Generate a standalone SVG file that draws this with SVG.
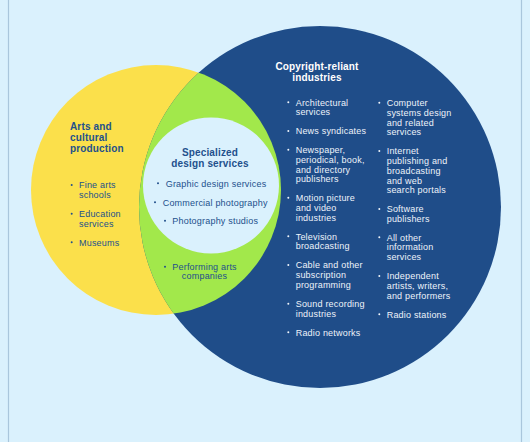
<svg xmlns="http://www.w3.org/2000/svg" width="530" height="442" viewBox="0 0 530 442">
<style>
.t{font-family:"Liberation Sans",Arial,sans-serif;font-size:9px;letter-spacing:0.2px;fill:#22508c}
.w{fill:#eef3fa}
.h{font-family:"Liberation Sans",Arial,sans-serif;font-size:10px;font-weight:bold;letter-spacing:0.15px;fill:#22508c}
.hw{fill:#ffffff}
.bd{fill:#22508c}
.bw{fill:#eef3fa}
</style>
<defs>
<clipPath id="yc"><circle cx="156" cy="190" r="125"/></clipPath>
</defs>
<rect x="0" y="0" width="530" height="442" fill="#daf1fd"/>
<line x1="8.5" y1="0" x2="8.5" y2="442" stroke="#a9c6dc" stroke-width="1.2"/>
<line x1="521.5" y1="0" x2="521.5" y2="442" stroke="#a9c6dc" stroke-width="1.2"/>

<g id="arts">
<circle cx="156" cy="190" r="125" fill="#fbe04b"/>
<text class="h" x="70" y="130.3">Arts and</text>
<text class="h" x="70" y="141.3">cultural</text>
<text class="h" x="70" y="152">production</text>
<circle class="bd" cx="71.7" cy="185" r="1"/>
<text class="t" x="79" y="188.2">Fine arts<tspan x="79" dy="10">schools</tspan></text>
<circle class="bd" cx="71.7" cy="213.7" r="1"/>
<text class="t" x="79" y="216.9">Education<tspan x="79" dy="10">services</tspan></text>
<circle class="bd" cx="71.7" cy="242.3" r="1"/>
<text class="t" x="79" y="245.5">Museums</text>
</g>

<g id="copyright">
<circle cx="320" cy="207" r="181" fill="#1f4d89"/>
<text class="h hw" x="317" y="70.3" text-anchor="middle">Copyright-reliant</text>
<text class="h hw" x="317" y="81.3" text-anchor="middle">industries</text>
<g class="bw">
<circle cx="288.3" cy="102.3" r="1"/>
<circle cx="288.3" cy="131" r="1"/>
<circle cx="288.3" cy="149.7" r="1"/>
<circle cx="288.3" cy="197.7" r="1"/>
<circle cx="288.3" cy="236.3" r="1"/>
<circle cx="288.3" cy="265" r="1"/>
<circle cx="288.3" cy="303.7" r="1"/>
<circle cx="288.3" cy="332.3" r="1"/>
<circle cx="379.3" cy="102.7" r="1"/>
<circle cx="379.3" cy="151" r="1"/>
<circle cx="379.3" cy="209" r="1"/>
<circle cx="379.3" cy="237.3" r="1"/>
<circle cx="379.3" cy="276" r="1"/>
<circle cx="379.3" cy="314.3" r="1"/>
</g>
<text class="t w" x="295.7" y="105.5">Architectural<tspan x="295.7" dy="9.8">services</tspan></text>
<text class="t w" x="295.7" y="134.2">News syndicates</text>
<text class="t w" x="295.7" y="152.9">Newspaper,<tspan x="295.7" dy="9.8">periodical, book,</tspan><tspan x="295.7" dy="9.8">and directory</tspan><tspan x="295.7" dy="9.8">publishers</tspan></text>
<text class="t w" x="295.7" y="200.9">Motion picture<tspan x="295.7" dy="9.8">and video</tspan><tspan x="295.7" dy="9.8">industries</tspan></text>
<text class="t w" x="295.7" y="239.5">Television<tspan x="295.7" dy="9.8">broadcasting</tspan></text>
<text class="t w" x="295.7" y="268.2">Cable and other<tspan x="295.7" dy="9.8">subscription</tspan><tspan x="295.7" dy="9.8">programming</tspan></text>
<text class="t w" x="295.7" y="306.9">Sound recording<tspan x="295.7" dy="9.8">industries</tspan></text>
<text class="t w" x="295.7" y="335.5">Radio networks</text>
<text class="t w" x="386.7" y="105.9">Computer<tspan x="386.7" dy="9.8">systems design</tspan><tspan x="386.7" dy="9.8">and related</tspan><tspan x="386.7" dy="9.8">services</tspan></text>
<text class="t w" x="386.7" y="154.2">Internet<tspan x="386.7" dy="9.8">publishing and</tspan><tspan x="386.7" dy="9.8">broadcasting</tspan><tspan x="386.7" dy="9.8">and web</tspan><tspan x="386.7" dy="9.8">search portals</tspan></text>
<text class="t w" x="386.7" y="212.2">Software<tspan x="386.7" dy="9.8">publishers</tspan></text>
<text class="t w" x="386.7" y="240.5">All other<tspan x="386.7" dy="9.8">information</tspan><tspan x="386.7" dy="9.8">services</tspan></text>
<text class="t w" x="386.7" y="279.2">Independent<tspan x="386.7" dy="9.8">artists, writers,</tspan><tspan x="386.7" dy="9.8">and performers</tspan></text>
<text class="t w" x="386.7" y="317.5">Radio stations</text>
</g>

<g id="overlap">
<circle cx="320" cy="207" r="181" fill="#a2e84b" clip-path="url(#yc)"/>
<circle class="bd" cx="165" cy="266.7" r="1"/>
<text class="t" x="172.3" y="270">Performing arts</text>
<text class="t" x="204.5" y="279.4" text-anchor="middle">companies</text>
</g>

<g id="specialized">
<circle cx="211" cy="185.5" r="68" fill="#daf1fd"/>
<text class="h" x="210" y="156.3" text-anchor="middle">Specialized</text>
<text class="h" x="210" y="167" text-anchor="middle">design services</text>
<circle class="bd" cx="158" cy="183.3" r="1"/>
<text class="t" x="165.7" y="186.5">Graphic design services</text>
<circle class="bd" cx="155" cy="202.3" r="1"/>
<text class="t" x="162.7" y="205.5">Commercial photography</text>
<circle class="bd" cx="165" cy="220.7" r="1"/>
<text class="t" x="172.3" y="224">Photography studios</text>
</g>

<g id="connectors"/>
</svg>
